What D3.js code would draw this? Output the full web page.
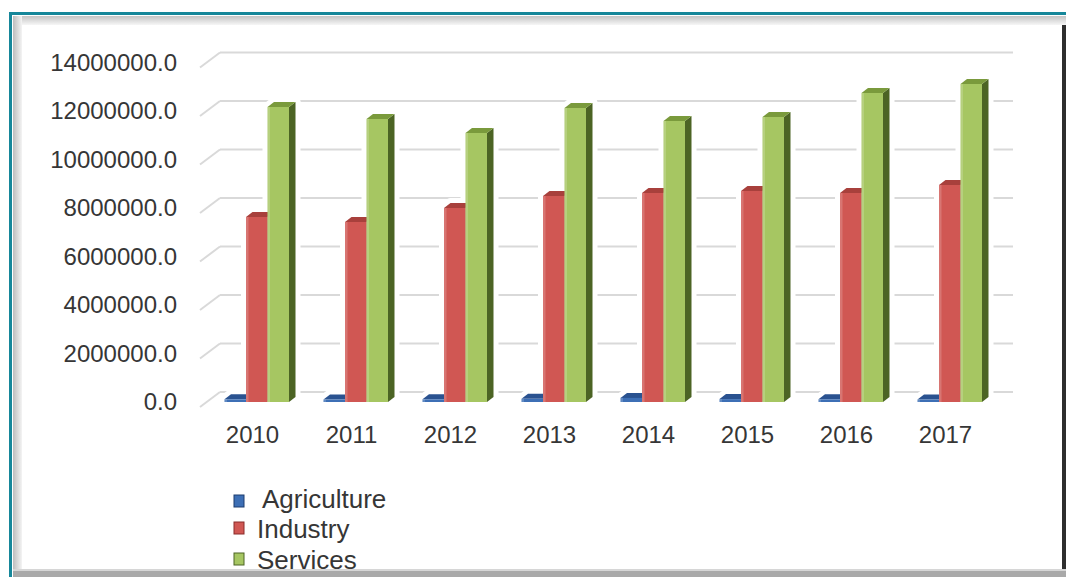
<!DOCTYPE html>
<html>
<head>
<meta charset="utf-8">
<script src="https://cdn.jsdelivr.net/npm/d3@7"></script>
<style>
  body { margin: 0; background: #fff; }
  text { font-family: "Liberation Sans", Arial, sans-serif; fill: #363636; }
</style>
</head>
<body>
<svg id="chart" width="1066" height="577"></svg>
<script>
// data
const years = ["2010", "2011", "2012", "2013", "2014", "2015", "2016", "2017"];
const seriesNames = ["Agriculture", "Industry", "Services"];
const agriculture = [110000, 100000, 110000, 130000, 170000, 120000, 110000, 100000];
const industry = [7630000, 7420000, 8000000, 8490000, 8620000, 8700000, 8620000, 8950000];
const services = [12160000, 11670000, 11090000, 12120000, 11590000, 11750000, 12740000, 13110000];
const yTicks = [0, 2000000, 4000000, 6000000, 8000000, 10000000, 12000000, 14000000];

const values = [agriculture, industry, services];
const fronts = ["#3d6fb5", "#d05753", "#a6c662"];
const tops = ["#2a5290", "#a8403c", "#7a9a3c"];
const sides = ["#1d3d6e", "#8a2d2a", "#4c6424"];

const svg = d3.select("#chart");
svg.append("rect").attr("width", 1066).attr("height", 577).attr("fill", "#fff");

// frame
const grad = svg.append("defs");
const gl = grad.append("linearGradient").attr("id", "bevL").attr("x1", 0).attr("x2", 1).attr("y1", 0).attr("y2", 0);
gl.append("stop").attr("offset", 0).attr("stop-color", "#bdbdbd");
gl.append("stop").attr("offset", 1).attr("stop-color", "#f4f4f4");
const gt = grad.append("linearGradient").attr("id", "bevT").attr("x1", 0).attr("x2", 0).attr("y1", 0).attr("y2", 1);
gt.append("stop").attr("offset", 0).attr("stop-color", "#c4c4c4");
gt.append("stop").attr("offset", 1).attr("stop-color", "#f6f6f6");

svg.append("rect").attr("x", 13).attr("y", 16).attr("width", 1053).attr("height", 9).attr("fill", "url(#bevT)");
svg.append("rect").attr("x", 13).attr("y", 16).attr("width", 9).attr("height", 561).attr("fill", "url(#bevL)");
svg.append("rect").attr("x", 1062).attr("y", 25).attr("width", 4).attr("height", 545).attr("fill", "#2e2e2e");
svg.append("rect").attr("x", 9).attr("y", 12).attr("width", 1057).attr("height", 3).attr("fill", "#16879a");

// scales: front plane, back wall shifted by depth
const depthX = 20, depthY = 15;
const y = d3.scaleLinear().domain([0, 14000000]).range([407, 67.5]);
const x = d3.scaleBand().domain(years).range([203, 995]).padding(0);

// gridlines on the back wall, with a diagonal on the side
const grid = svg.append("g");
yTicks.forEach(t => {
  const yf = y(t);
  grid.append("line")
    .attr("x1", 200).attr("y1", yf).attr("x2", 200 + depthX).attr("y2", yf - depthY)
    .attr("stroke", "#d9d9d9").attr("stroke-width", 2);
  grid.append("line")
    .attr("x1", 200 + depthX).attr("y1", yf - depthY).attr("x2", 1013).attr("y2", yf - depthY)
    .attr("stroke", "#d9d9d9").attr("stroke-width", 2);
});

// y labels
svg.append("g").selectAll("text").data(yTicks).join("text")
  .attr("x", 177).attr("y", d => y(d) - 3)
  .attr("text-anchor", "end").attr("dominant-baseline", "middle")
  .style("font-size", "24px")
  .text(d => d3.format(".1f")(d));

// bars (front face sits a little inside the depth)
const by = 5;              // shift of the bar front from the front plane
const bdx = 6.5, bdy = 5;  // bar depth
const bw = 21.5;
const yb = v => y(v) - by;

function barShapes(g, i, yr, v, halo) {
  const x0 = x(yr) + x.bandwidth() / 2 - 28 + i * bw;
  const yt = yb(v), y0 = yb(0);
  const front = [[x0, yt], [x0 + bw, yt], [x0 + bw, y0], [x0, y0]];
  const top = [[x0, yt], [x0 + bdx, yt - bdy], [x0 + bw + bdx, yt - bdy], [x0 + bw, yt]];
  const side = [[x0 + bw, yt], [x0 + bw + bdx, yt - bdy], [x0 + bw + bdx, y0 - bdy], [x0 + bw, y0]];
  const line = d3.line();
  [[side, sides[i]], [top, tops[i]], [front, fronts[i]]].forEach(([pts, col]) => {
    const p = g.append("path").attr("d", line(pts) + "Z");
    if (halo) p.attr("fill", "#fff").attr("stroke", "#fff").attr("stroke-width", 10).attr("stroke-linejoin", "round");
    else p.attr("fill", col);
  });
  if (!halo) {
    g.append("rect").attr("x", x0).attr("y", yt).attr("width", 2.5).attr("height", Math.max(0, y0 - yt))
      .attr("fill", "#fff").attr("opacity", 0.18);
  }
}

const haloG = svg.append("g");
const barG = svg.append("g");
years.forEach((yr, j) => {
  values.forEach((arr, i) => barShapes(haloG, i, yr, arr[j], true));
});
years.forEach((yr, j) => {
  values.forEach((arr, i) => barShapes(barG, i, yr, arr[j], false));
});

// x labels
svg.append("g").selectAll("text").data(years).join("text")
  .attr("x", d => x(d) + x.bandwidth() / 2)
  .attr("y", 437)
  .attr("text-anchor", "middle").attr("dominant-baseline", "middle")
  .style("font-size", "24px")
  .text(d => d);

// legend
const legY = [501, 531, 562];
const leg = svg.append("g");
seriesNames.forEach((name, i) => {
  leg.append("rect").attr("x", 234).attr("y", legY[i] - 6 - (i > 0 ? 3 : 0)).attr("width", 10).attr("height", 12)
    .attr("fill", fronts[i]).attr("stroke", sides[i]).attr("stroke-width", 1);
  leg.append("text").attr("x", i === 0 ? 262 : 257).attr("y", legY[i])
    .attr("dominant-baseline", "middle").style("font-size", "26px")
    .text(name);
});

// bottom frame over the clipped legend line
svg.append("rect").attr("x", 13).attr("y", 569).attr("width", 1053).attr("height", 8).attr("fill", "#a9a9a9");
svg.append("rect").attr("x", 13).attr("y", 569).attr("width", 1053).attr("height", 2).attr("fill", "#d6d6d6");
svg.append("rect").attr("x", 9).attr("y", 12).attr("width", 3).attr("height", 565).attr("fill", "#16879a");
</script>
</body>
</html>
